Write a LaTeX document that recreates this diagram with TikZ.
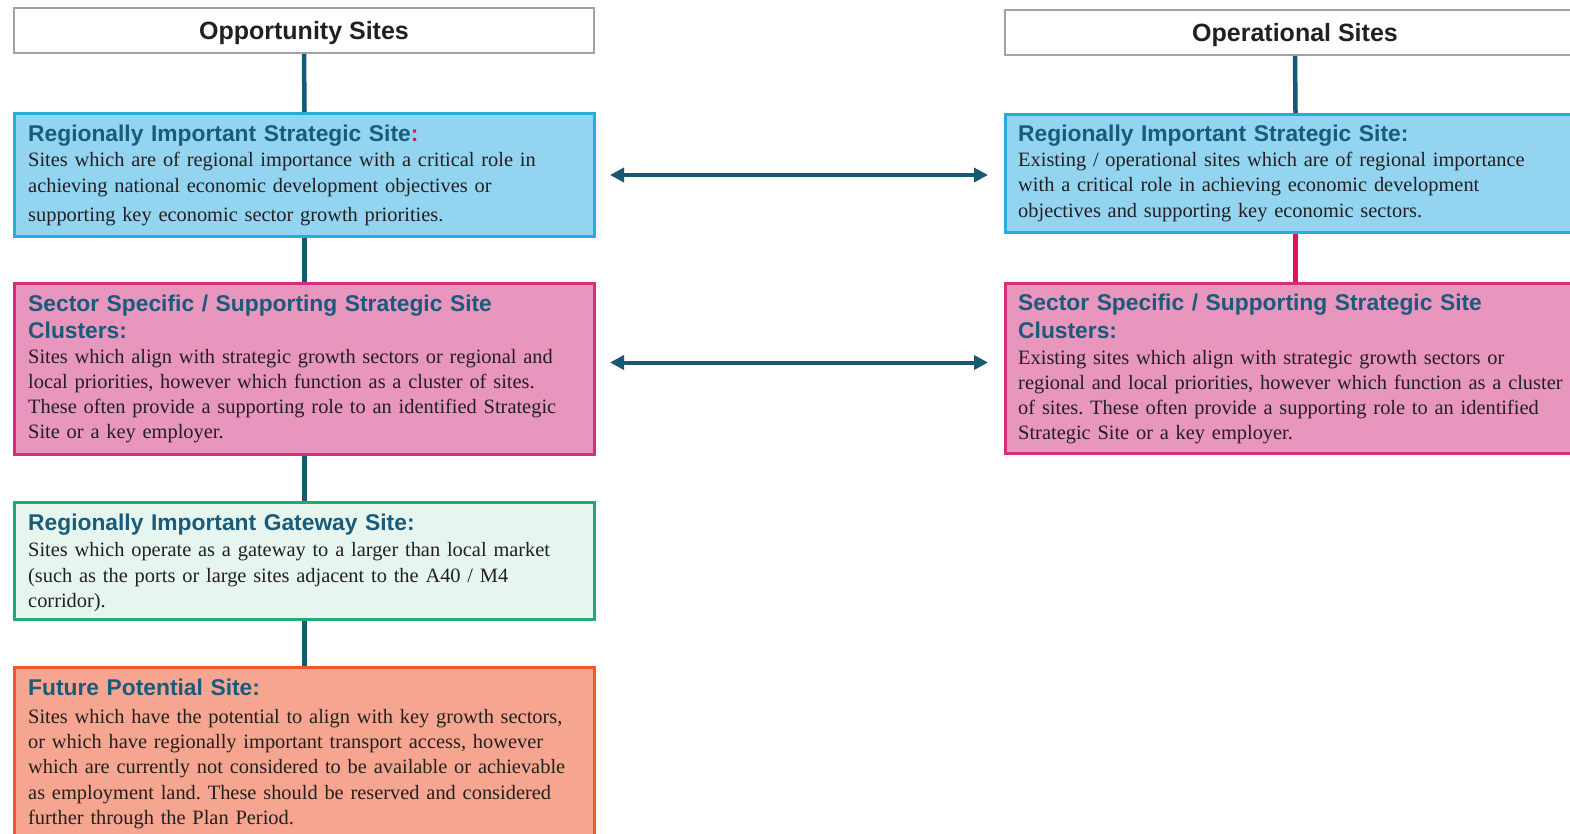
\documentclass[tikz,border=0pt]{standalone}
\usepackage{fontspec}
\setmainfont{Liberation Serif}
\newfontfamily\hdfont{Liberation Sans}
\usetikzlibrary{arrows.meta,calc}
\frenchspacing
\definecolor{titlec}{HTML}{1A5A7B}
\definecolor{bodyc}{HTML}{231F20}
\definecolor{linec}{HTML}{175873}
\definecolor{redc}{HTML}{E0144F}
\definecolor{hdrborder}{HTML}{A3A3A3}
\definecolor{bluef}{HTML}{93D4F1}
\definecolor{blued}{HTML}{29AAE1}
\definecolor{pinkf}{HTML}{E896BE}
\definecolor{pinkd}{HTML}{D52E7B}
\definecolor{greenf}{HTML}{E6F6EF}
\definecolor{greend}{HTML}{22AA72}
\definecolor{orangef}{HTML}{F6A690}
\definecolor{oranged}{HTML}{EE5A2A}
\tikzset{
  hdr/.style={draw=hdrborder, line width=2pt, fill=white, minimum width=580pt, minimum height=45pt,
    anchor=north west, inner sep=0pt, text depth=0pt, text=bodyc, font=\hdfont\bfseries\fontsize{25}{30}\selectfont},
  sitebox/.style={line width=3pt, minimum width=580pt, anchor=north west, inner sep=0pt},
  ttl/.style={anchor=base west, inner sep=0pt, text=titlec, text width=620pt, align=left,
    font=\hdfont\bfseries\fontsize{22.8}{27.5}\selectfont},
  bodytxt/.style={anchor=base west, inner sep=0pt, text=bodyc, text width=620pt, align=left,
    font=\frenchspacing\fontsize{20.4}{25.3}\selectfont},
  conn/.style={line width=4.5pt, draw=linec},
  biarrow/.style={line width=4pt, draw=linec,
    {Triangle[length=14pt,width=14pt]}-{Triangle[length=14pt,width=14pt]}}
}
\begin{document}
\begin{tikzpicture}[x=1pt,y=-1pt]
\useasboundingbox (0,0) rectangle (1570,834);
\clip (0,0) rectangle (1570,834);
% headers
\node[hdr] (lh) at (13,7) {Opportunity Sites};
\node[hdr] (rh) at (1004,9) {Operational Sites};
% left boxes
\node[sitebox, fill=bluef, draw=blued, minimum height=123pt] (lb) at (13,112) {};
\node[sitebox, fill=pinkf, draw=pinkd, minimum height=171pt] (lp) at (13,282) {};
\node[sitebox, fill=greenf, draw=greend, minimum height=117pt] (lg) at (13,501) {};
\node[sitebox, fill=orangef, draw=oranged, minimum height=200pt] (lo) at (13,666) {};
% right boxes
\node[sitebox, fill=bluef, draw=blued, minimum height=118pt] (rb) at (1004,113) {};
\node[sitebox, fill=pinkf, draw=pinkd, minimum height=170pt] (rp) at (1004,282) {};
% vertical connectors
\draw[conn] (lh.south) -- (lb.north);
\draw[conn] (lb.south) -- (lp.north);
\draw[conn] (lp.south) -- (lg.north);
\draw[conn] (lg.south) -- (lo.north);
\draw[conn] (rh.south) -- (rb.north);
\draw[conn, draw=redc] (rb.south) -- (rp.north);
% horizontal arrows
\draw[biarrow, shorten <=14pt, shorten >=16pt] (lb.east) -- (lb.east -| rb.west);
\draw[biarrow, shorten <=14pt, shorten >=16pt] ([yshift=6.5pt]lp.east) -- ([yshift=6.5pt]lp.east -| rp.west);
% texts left
\node[ttl] (lbt) at (28,141.5) {Regionally Important Strategic Site\textcolor{redc}{:}};
\node[bodytxt] (lbb) at (28,166.7) {Sites which are of regional importance with a critical role in\\[0.7pt]
achieving national economic development objectives or\\[3.7pt]
supporting key economic sector growth priorities.};
\node[ttl] (lpt) at (28,311) {Sector Specific / Supporting Strategic Site\\Clusters:};
\node[bodytxt] (lpb) at (28,363) {Sites which align with strategic growth sectors or regional and\\
local priorities, however which function as a cluster of sites.\\
These often provide a supporting role to an identified Strategic\\
Site or a key employer.};
\node[ttl] (lgt) at (28,530.7) {Regionally Important Gateway Site:};
\node[bodytxt] (lgb) at (28,556.7) {Sites which operate as a gateway to a larger than local market\\
(such as the ports or large sites adjacent to the A40 / M4\\
corridor).};
\node[ttl] (lot) at (28,695) {Future Potential Site:};
\node[bodytxt] (lob) at (28,723.3) {Sites which have the potential to align with key growth sectors,\\
or which have regionally important transport access, however\\
which are currently not considered to be available or achievable\\
as employment land. These should be reserved and considered\\
further through the Plan Period.};
% texts right
\node[ttl] (rbt) at (1018,141.7) {Regionally Important Strategic Site:};
\node[bodytxt] (rbb) at (1018,166.7) {Existing / operational sites which are of regional importance\\
with a critical role in achieving economic development\\
objectives and supporting key economic sectors.};
\node[ttl] (rpt) at (1018,310.7) {Sector Specific / Supporting Strategic Site\\Clusters:};
\node[bodytxt] (rpb) at (1018,364) {Existing sites which align with strategic growth sectors or\\
regional and local priorities, however which function as a cluster\\
of sites. These often provide a supporting role to an identified\\
Strategic Site or a key employer.};
\end{tikzpicture}
\end{document}
